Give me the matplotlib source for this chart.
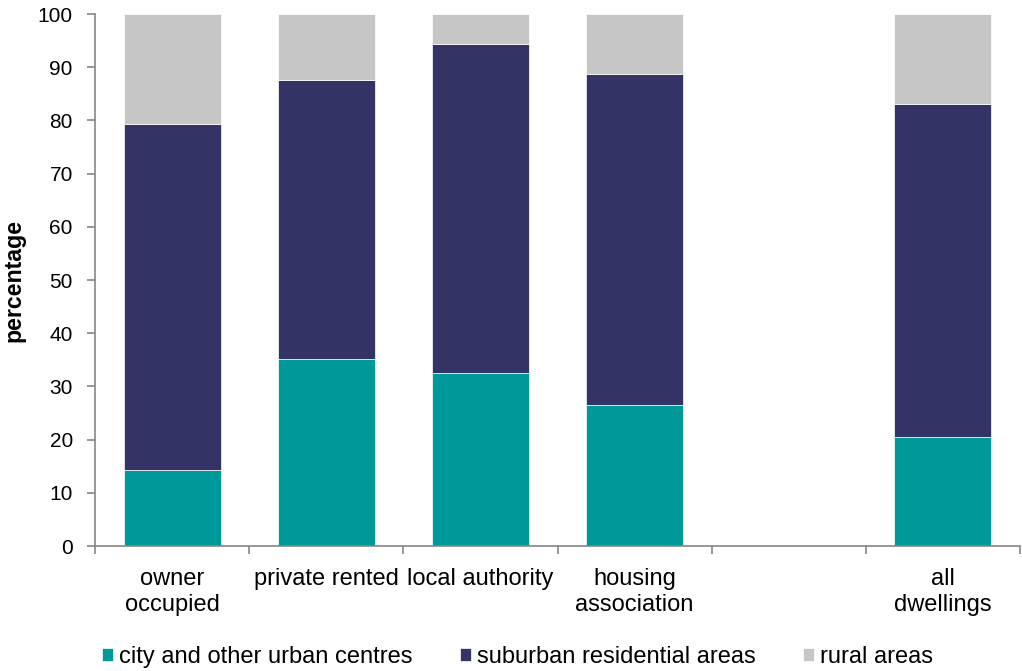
import numpy as np
import matplotlib.pyplot as plt

plt.rcParams['font.family'] = ['Liberation Sans', 'DejaVu Sans']

categories = ["owner\noccupied", "private rented", "local authority",
              "housing\nassociation", "", "all\ndwellings"]
city = [14.2, 35.1, 32.5, 26.5, np.nan, 20.5]
suburban = [65.1, 52.5, 61.9, 62.2, np.nan, 62.5]
rural = [20.7, 12.4, 5.6, 11.3, np.nan, 17.0]
series_names = ["city and other urban centres", "suburban residential areas", "rural areas"]
colors = ["#009999", "#333366", "#C6C6C6"]

fig = plt.figure(figsize=(10.22, 6.71), dpi=100)
ax = fig.add_axes([95/1022, 125/671, 925/1022, 532/671])

x = np.arange(len(categories))
bottom = np.zeros(len(categories))
for vals, name, col in zip([city, suburban, rural], series_names, colors):
    v = np.nan_to_num(np.array(vals, dtype=float))
    ax.bar(x, v, 0.63, bottom=bottom, color=col, label=name,
           edgecolor="white", linewidth=0.5)
    bottom += v

ax.set_xlim(-0.5, len(categories) - 0.5)
ax.set_ylim(0, 100)
ax.set_yticks(np.arange(0, 101, 10))
ax.set_xticks(np.arange(-0.5, len(categories), 1.0))
ax.set_xticklabels([])
ax.set_xticks(x, minor=True)
ax.set_xticklabels(categories, minor=True, linespacing=1.25)
ax.tick_params(axis="x", which="minor", length=0, pad=16, labelsize=17)
ax.tick_params(axis="x", which="major", length=6, color="#868686", width=1.2)
ax.tick_params(axis="y", length=6, color="#868686", width=1.2, labelsize=15, pad=10)
for s in ["top", "right"]:
    ax.spines[s].set_visible(False)
for s in ["left", "bottom"]:
    ax.spines[s].set_color("#868686")
    ax.spines[s].set_linewidth(1.2)
ax.set_ylabel("percentage", fontsize=16.7, fontweight="bold")
ax.yaxis.set_label_coords(-0.075, 0.5)

fig.legend(loc="center left", bbox_to_anchor=(102/1022, 14/671), ncol=3, frameon=False,
           fontsize=17, handlelength=0.47, handleheight=0.47, handletextpad=0.25,
           columnspacing=2.0, borderpad=0, borderaxespad=0)

fig.savefig("out.png", dpi=100)
